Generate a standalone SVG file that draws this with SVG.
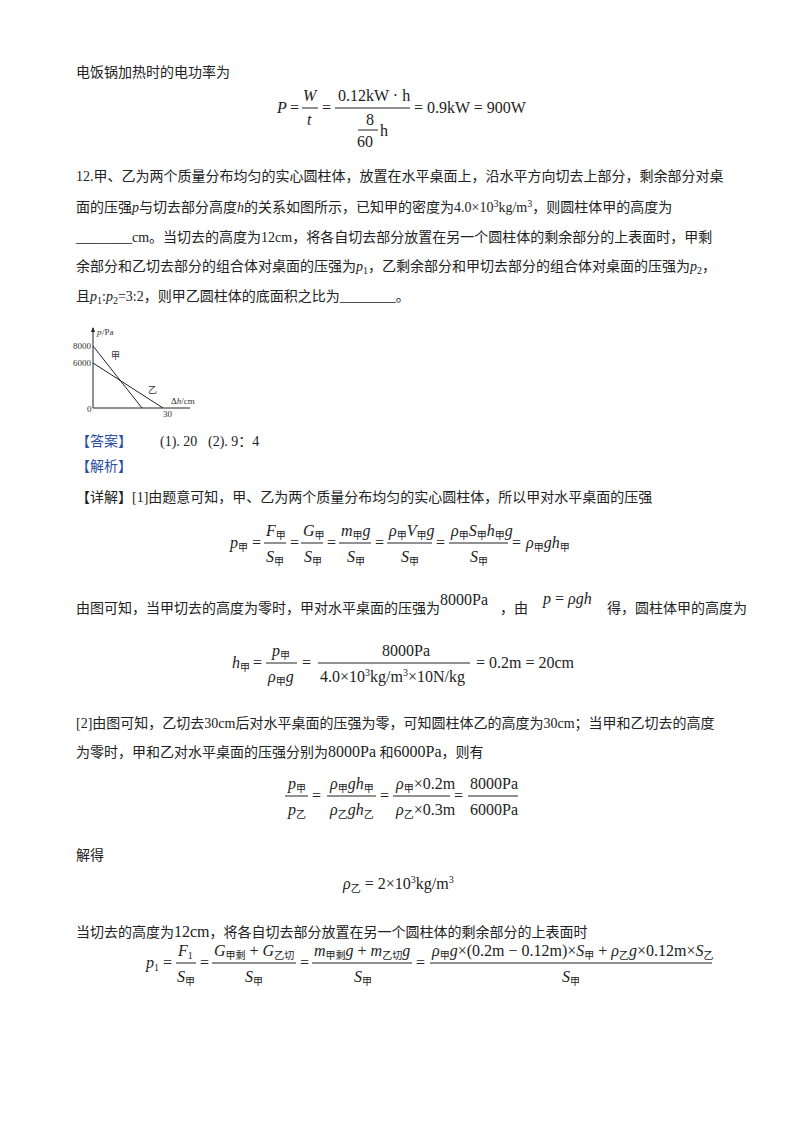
<svg xmlns="http://www.w3.org/2000/svg" width="800" height="1132" viewBox="0 0 800 1132">
<style>
.t{font-family:"Liberation Serif","Noto Sans CJK SC",serif;font-size:14px;fill:#222}
.m{font-family:"Liberation Serif","Noto Sans CJK SC",serif;font-size:16px;fill:#222}
.i{font-style:italic}
.s{font-size:10px}
.b{fill:#2a4fa0}
.l{stroke:#222;stroke-width:1;fill:none}
.g{font-family:"Liberation Serif","Noto Sans CJK SC",serif;font-size:9px;fill:#333}
</style>
<rect width="800" height="1132" fill="#fff"/>
<text class="t" x="76" y="77">电饭锅加热时的电功率为</text>
<g id="f1">
<text class="m i" x="277" y="113">P</text>
<text class="m" x="290" y="113">=</text>
<text class="m i" x="303" y="101">W</text><line class="l" x1="302" y1="108" x2="318" y2="108"/><text class="m i" x="307" y="125">t</text>
<text class="m" x="322" y="113">=</text>
<text class="m" x="338" y="101">0.12kW · h</text><line class="l" x1="335" y1="108" x2="410" y2="108"/>
<text class="m" x="366" y="125">8</text><line class="l" x1="358" y1="130" x2="378" y2="130"/><text class="m" x="357" y="147">60</text><text class="m" x="380" y="136">h</text>
<text class="m" x="414" y="113">= 0.9kW = 900W</text>
</g>
<text class="t" x="76" y="181">12.甲、乙为两个质量分布均匀的实心圆柱体，放置在水平桌面上，沿水平方向切去上部分，剩余部分对桌</text>
<text class="t" x="76" y="212">面的压强<tspan class="i">p</tspan>与切去部分高度<tspan class="i">h</tspan>的关系如图所示，已知甲的密度为4.0×10<tspan class="s" dy="-5">3</tspan><tspan dy="5">kg/m</tspan><tspan class="s" dy="-5">3</tspan><tspan dy="5">，则圆柱体甲的高度为</tspan></text>
<text class="t" x="76" y="242">________cm。当切去的高度为12cm，将各自切去部分放置在另一个圆柱体的剩余部分的上表面时，甲剩</text>
<text class="t" x="76" y="271">余部分和乙切去部分的组合体对桌面的压强为<tspan class="i">p</tspan><tspan class="s" dy="3">1</tspan><tspan dy="-3">，乙剩余部分和甲切去部分的组合体对桌面的压强为</tspan><tspan class="i">p</tspan><tspan class="s" dy="3">2</tspan><tspan dy="-3">，</tspan></text>
<text class="t" x="76" y="301">且<tspan class="i">p</tspan><tspan class="s" dy="3">1</tspan><tspan dy="-3">:</tspan><tspan class="i">p</tspan><tspan class="s" dy="3">2</tspan><tspan dy="-3">=3:2，则甲乙圆柱体的底面积之比为________。</tspan></text>
<g id="graph">
<line class="l" x1="93" y1="408" x2="93" y2="328"/><path d="M91,332 L93,327 L95,332Z" fill="#222"/>
<line class="l" x1="93" y1="408" x2="190" y2="408"/>
<line class="l" x1="93" y1="346" x2="142" y2="408"/>
<line class="l" x1="93" y1="363" x2="163" y2="408"/>
<text class="g" x="97" y="335" font-style="italic">p</text><text class="g" x="102" y="335">/Pa</text>
<text class="g" x="73" y="349">8000</text><text class="g" x="73" y="366">6000</text>
<text class="g" x="111" y="359">甲</text><text class="g" x="148" y="393">乙</text>
<text class="g" x="87" y="412">0</text><text class="g" x="163" y="417">30</text>
<text class="g" x="171" y="404">Δ<tspan font-style="italic">h</tspan>/cm</text>
</g>
<text class="t b" x="76" y="446">【答案】</text>
<text class="t" x="160" y="446">(1). 20</text>
<text class="t" x="208" y="446">(2). 9：4</text>
<text class="t b" x="76" y="471">【解析】</text>
<text class="t" x="76" y="502">【详解】[1]由题意可知，甲、乙为两个质量分布均匀的实心圆柱体，所以甲对水平桌面的压强</text>
<g id="f2" class="m">
<text class="m i" x="230" y="548">p<tspan class="s" font-style="normal" dy="3">甲</tspan></text>
<text class="m" x="252" y="548">=</text>
<text class="m i" x="266" y="536">F<tspan class="s" font-style="normal" dy="3">甲</tspan></text><line class="l" x1="264" y1="543" x2="286" y2="543"/><text class="m i" x="266" y="562">S<tspan class="s" font-style="normal" dy="3">甲</tspan></text>
<text class="m" x="290" y="548">=</text>
<text class="m i" x="303" y="536">G<tspan class="s" font-style="normal" dy="3">甲</tspan></text><line class="l" x1="301" y1="543" x2="323" y2="543"/><text class="m i" x="304" y="562">S<tspan class="s" font-style="normal" dy="3">甲</tspan></text>
<text class="m" x="327" y="548">=</text>
<text class="m i" x="341" y="536">m<tspan class="s" font-style="normal" dy="3">甲</tspan><tspan dy="-3">g</tspan></text><line class="l" x1="339" y1="543" x2="371" y2="543"/><text class="m i" x="347" y="562">S<tspan class="s" font-style="normal" dy="3">甲</tspan></text>
<text class="m" x="375" y="548">=</text>
<text class="m i" x="389" y="536">ρ<tspan class="s" font-style="normal" dy="3">甲</tspan><tspan dy="-3">V</tspan><tspan class="s" font-style="normal" dy="3">甲</tspan><tspan dy="-3">g</tspan></text><line class="l" x1="387" y1="543" x2="432" y2="543"/><text class="m i" x="401" y="562">S<tspan class="s" font-style="normal" dy="3">甲</tspan></text>
<text class="m" x="436" y="548">=</text>
<text class="m i" x="451" y="536">ρ<tspan class="s" font-style="normal" dy="3">甲</tspan><tspan dy="-3">S</tspan><tspan class="s" font-style="normal" dy="3">甲</tspan><tspan dy="-3">h</tspan><tspan class="s" font-style="normal" dy="3">甲</tspan><tspan dy="-3">g</tspan></text><line class="l" x1="449" y1="543" x2="508" y2="543"/><text class="m i" x="470" y="562">S<tspan class="s" font-style="normal" dy="3">甲</tspan></text>
<text class="m" x="512" y="548">=</text>
<text class="m i" x="526" y="548">ρ<tspan class="s" font-style="normal" dy="3">甲</tspan><tspan dy="-3">gh</tspan><tspan class="s" font-style="normal" dy="3">甲</tspan></text>
</g>
<text class="t" x="76" y="613">由图可知，当甲切去的高度为零时，甲对水平桌面的压强为<tspan font-size="16" dy="-8">8000Pa</tspan></text>
<text class="t" x="500" y="613">，由</text>
<text class="m i" x="543" y="604">p <tspan font-style="normal">=</tspan> ρgh</text>
<text class="t" x="607" y="613">得，圆柱体甲的高度为</text>
<g id="f3">
<text class="m i" x="232" y="668">h<tspan class="s" font-style="normal" dy="3">甲</tspan></text>
<text class="m" x="253" y="668">=</text>
<text class="m i" x="272" y="656">p<tspan class="s" font-style="normal" dy="3">甲</tspan></text><line class="l" x1="266" y1="663" x2="297" y2="663"/><text class="m i" x="268" y="682">ρ<tspan class="s" font-style="normal" dy="3">甲</tspan><tspan dy="-3">g</tspan></text>
<text class="m" x="302" y="668">=</text>
<text class="m" x="382" y="656">8000Pa</text><line class="l" x1="318" y1="663" x2="470" y2="663"/>
<text class="m" x="320" y="682">4.0×10<tspan class="s" dy="-6">3</tspan><tspan dy="6">kg/m</tspan><tspan class="s" dy="-6">3</tspan><tspan dy="6">×10N/kg</tspan></text>
<text class="m" x="476" y="668">= 0.2m = 20cm</text>
</g>
<text class="t" x="76" y="728">[2]由图可知，乙切去30cm后对水平桌面的压强为零，可知圆柱体乙的高度为30cm；当甲和乙切去的高度</text>
<text class="t" x="76" y="757">为零时，甲和乙对水平桌面的压强分别为<tspan font-size="16">8000Pa</tspan> 和<tspan font-size="16">6000Pa</tspan>，则有</text>
<g id="f4">
<text class="m i" x="288" y="789">p<tspan class="s" font-style="normal" dy="3">甲</tspan></text><line class="l" x1="285" y1="796" x2="308" y2="796"/><text class="m i" x="288" y="815">p<tspan class="s" font-style="normal" dy="3">乙</tspan></text>
<text class="m" x="312" y="801">=</text>
<text class="m i" x="330" y="789">ρ<tspan class="s" font-style="normal" dy="3">甲</tspan><tspan dy="-3">gh</tspan><tspan class="s" font-style="normal" dy="3">甲</tspan></text><line class="l" x1="327" y1="796" x2="376" y2="796"/><text class="m i" x="330" y="815">ρ<tspan class="s" font-style="normal" dy="3">乙</tspan><tspan dy="-3">gh</tspan><tspan class="s" font-style="normal" dy="3">乙</tspan></text>
<text class="m" x="380" y="801">=</text>
<text class="m" x="396" y="789"><tspan class="i">ρ</tspan><tspan class="s" dy="3">甲</tspan><tspan dy="-3">×0.2m</tspan></text><line class="l" x1="393" y1="796" x2="450" y2="796"/><text class="m" x="396" y="815"><tspan class="i">ρ</tspan><tspan class="s" dy="3">乙</tspan><tspan dy="-3">×0.3m</tspan></text>
<text class="m" x="454" y="801">=</text>
<text class="m" x="470" y="789">8000Pa</text><line class="l" x1="468" y1="796" x2="518" y2="796"/><text class="m" x="470" y="815">6000Pa</text>
</g>
<text class="t" x="76" y="860">解得</text>
<text class="m" x="343" y="889"><tspan class="i">ρ</tspan><tspan class="s" dy="3">乙</tspan><tspan dy="-3"> = 2×10</tspan><tspan class="s" dy="-6">3</tspan><tspan dy="6">kg/m</tspan><tspan class="s" dy="-6">3</tspan></text>
<text class="t" x="76" y="937">当切去的高度为<tspan font-size="16">12cm</tspan>，将各自切去部分放置在另一个圆柱体的剩余部分的上表面时</text>
<g id="f5">
<text class="m i" x="146" y="968">p<tspan class="s" font-style="normal" dy="3">1</tspan></text>
<text class="m" x="163" y="968">=</text>
<text class="m i" x="178" y="956">F<tspan class="s" font-style="normal" dy="3">1</tspan></text><line class="l" x1="176" y1="963" x2="196" y2="963"/><text class="m i" x="177" y="982">S<tspan class="s" font-style="normal" dy="3">甲</tspan></text>
<text class="m" x="200" y="968">=</text>
<text class="m i" x="214" y="956">G<tspan class="s" font-style="normal" dy="3">甲剩</tspan><tspan font-style="normal" dy="-3"> + </tspan>G<tspan class="s" font-style="normal" dy="3">乙切</tspan></text><line class="l" x1="212" y1="963" x2="296" y2="963"/><text class="m i" x="245" y="982">S<tspan class="s" font-style="normal" dy="3">甲</tspan></text>
<text class="m" x="300" y="968">=</text>
<text class="m i" x="314" y="956">m<tspan class="s" font-style="normal" dy="3">甲剩</tspan><tspan dy="-3">g</tspan><tspan font-style="normal"> + </tspan>m<tspan class="s" font-style="normal" dy="3">乙切</tspan><tspan dy="-3">g</tspan></text><line class="l" x1="312" y1="963" x2="412" y2="963"/><text class="m i" x="354" y="982">S<tspan class="s" font-style="normal" dy="3">甲</tspan></text>
<text class="m" x="416" y="968">=</text>
<text class="m" x="432" y="956"><tspan class="i">ρ</tspan><tspan class="s" dy="3">甲</tspan><tspan class="i" dy="-3">g</tspan>×(0.2m − 0.12m)×<tspan class="i">S</tspan><tspan class="s" dy="3">甲</tspan><tspan dy="-3"> + </tspan><tspan class="i">ρ</tspan><tspan class="s" dy="3">乙</tspan><tspan class="i" dy="-3">g</tspan>×0.12m×<tspan class="i">S</tspan><tspan class="s" dy="3">乙</tspan></text><line class="l" x1="430" y1="963" x2="712" y2="963"/><text class="m i" x="562" y="982">S<tspan class="s" font-style="normal" dy="3">甲</tspan></text>
</g>
</svg>
